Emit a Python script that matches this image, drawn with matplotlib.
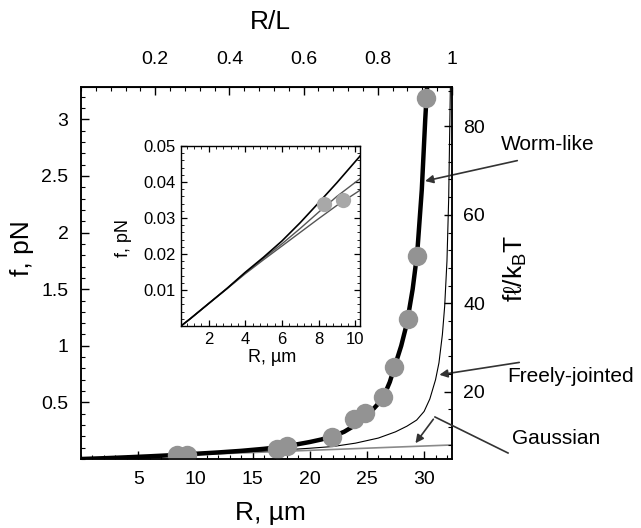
import matplotlib.pyplot as plt
from matplotlib.ticker import MultipleLocator, FixedLocator

plt.rcParams["font.family"] = ["Liberation Sans", "DejaVu Sans"]
plt.rcParams["mathtext.fontset"] = "custom"
plt.rcParams["mathtext.rm"] = "Liberation Sans"

# contour length used for the top R/L axis (um)
L = 32.44

# measured points (main panel)
pts_R = [8.43, 9.30, 17.15, 18.02, 21.97, 23.89, 24.84, 26.39, 27.38, 28.62, 29.41, 30.13]
pts_f = [0.034, 0.035, 0.088, 0.115, 0.194, 0.350, 0.406, 0.549, 0.814, 1.241, 1.795, 3.193]

# worm-like chain curve
wlc_R = [0, 2, 4, 6, 8, 10, 12, 14, 16, 18, 20, 21, 22, 23, 24, 25, 26, 26.5, 27, 27.5,
         28, 28.5, 29, 29.4, 29.8, 30.1, 30.3]
wlc_f = [0, 0.007, 0.015, 0.024, 0.034, 0.046, 0.058, 0.072, 0.090, 0.113, 0.150, 0.172,
         0.200, 0.240, 0.300, 0.380, 0.490, 0.560, 0.680, 0.840, 1.000, 1.200, 1.500,
         1.820, 2.380, 3.000, 3.350]

# freely-jointed chain curve
fjc_R = [0, 5, 10, 15, 18, 20, 22, 24, 26, 27.5, 28.5, 29.35, 30, 30.5, 31, 31.3, 31.6,
         31.8, 32.0, 32.15, 32.3]
fjc_f = [0, 0.019, 0.041, 0.065, 0.082, 0.095, 0.110, 0.140, 0.185, 0.240, 0.290, 0.344,
         0.420, 0.530, 0.700, 0.850, 1.100, 1.350, 1.750, 2.300, 3.300]

# gaussian chain (straight line)
gau_R = [0, 32.44]
gau_f = [0, 0.124]

# inset curves
in_R = [0.5, 1, 2, 3, 4, 5, 6, 7, 8, 9, 10.26]
in_wlc = [0, 0.0020, 0.0062, 0.0104, 0.0149, 0.0191, 0.0236, 0.0287, 0.0342, 0.0398, 0.0472]
in_fjc = [0, 0.0020, 0.0062, 0.0104, 0.0147, 0.0188, 0.0228, 0.0271, 0.0316, 0.0360, 0.0409]
in_gau = [0, 0.0020, 0.0062, 0.0103, 0.0145, 0.0184, 0.0222, 0.0260, 0.0298, 0.0335, 0.0377]
in_pts_R = [8.3, 9.32]
in_pts_f = [0.034, 0.035]

W, H = 641, 528
fig = plt.figure(figsize=(W / 100, H / 100), dpi=100)

ax = fig.add_axes([81 / W, 1 - 459 / H, 371 / W, 372 / H])
ax.plot(gau_R, gau_f, color="#8a8a8a", lw=1.2, zorder=2)
ax.plot(fjc_R, fjc_f, color="black", lw=0.8, zorder=2)
ax.plot(wlc_R, wlc_f, color="black", lw=3.2, zorder=3)
ax.plot(pts_R, pts_f, "o", color="#939393", ms=14, mec="none", zorder=4)
ax.set_xlim(0, L)
ax.set_ylim(0, 3.286)

ax.xaxis.set_major_locator(FixedLocator([5, 10, 15, 20, 25, 30]))
ax.xaxis.set_minor_locator(MultipleLocator(1))
ax.yaxis.set_major_locator(FixedLocator([0.5, 1, 1.5, 2, 2.5, 3]))
ax.yaxis.set_minor_locator(MultipleLocator(0.1))
ax.yaxis.set_major_formatter(plt.FuncFormatter(lambda v, p: f"{v:g}"))
ax.tick_params(which="both", direction="in", top=False, right=False, labelsize=14)
ax.tick_params(which="major", length=6, width=1, pad=9)
ax.tick_params(which="minor", length=3, width=0.8)
for s in ax.spines.values():
    s.set_linewidth(1.1)

top = ax.secondary_xaxis("top", functions=(lambda r: r / L, lambda x: x * L))
top.xaxis.set_major_locator(FixedLocator([0.2, 0.4, 0.6, 0.8, 1.0]))
top.xaxis.set_minor_locator(MultipleLocator(0.04))
top.xaxis.set_major_formatter(plt.FuncFormatter(lambda v, p: f"{v:g}"))
top.tick_params(which="both", direction="in", labelsize=14)
top.tick_params(which="major", length=6, width=1, pad=14)
top.tick_params(which="minor", length=3, width=0.8)

right = ax.twinx()
right.set_ylim(4.8, 88.9)
right.yaxis.set_major_locator(FixedLocator([20, 40, 60, 80]))
right.yaxis.set_minor_locator(MultipleLocator(4))
right.tick_params(which="both", direction="in", labelsize=14)
right.tick_params(which="major", length=6, width=1, pad=8)
right.tick_params(which="minor", length=3, width=0.8)
for s in right.spines.values():
    s.set_linewidth(1.1)

# axis titles
fig.text(22 / W, 1 - 248 / H, "f, pN", rotation=90, ha="center", va="center", fontsize=19)
fig.text(270 / W, 1 - 513 / H, "R, \u00b5m", ha="center", va="center", fontsize=19)
fig.text(270 / W, 1 - 22 / H, "R/L", ha="center", va="center", fontsize=19)
fig.text(515 / W, 1 - 268 / H, "f\u2113/k$_\\mathrm{B}$T", rotation=90, ha="center",
         va="center", fontsize=19)

# annotations
fig.text(548 / W, 1 - 144 / H, "Worm-like", ha="center", va="center", fontsize=15)
fig.text(571 / W, 1 - 377 / H, "Freely-jointed", ha="center", va="center", fontsize=15)
fig.text(556 / W, 1 - 439 / H, "Gaussian", ha="center", va="center", fontsize=15)

arrow = dict(arrowstyle="-|>", color="#333333", lw=1.2, mutation_scale=12)
ax.annotate("", xy=(29.85, 2.45), xycoords="data", xytext=(520, H - 160),
            textcoords="figure pixels", arrowprops=arrow, annotation_clip=False)
ax.annotate("", xy=(31.1, 0.74), xycoords="data", xytext=(522, H - 362),
            textcoords="figure pixels", arrowprops=arrow, annotation_clip=False)
ax.annotate("", xy=(29.1, 0.12), xycoords="data", xytext=(435, H - 417),
            textcoords="figure pixels", arrowprops=arrow, annotation_clip=False)
fig.add_artist(plt.Line2D([435 / W, 508 / W], [1 - 417 / H, 1 - 453 / H],
                          color="#333333", lw=1.2, transform=fig.transFigure))

# inset
ins = fig.add_axes([181 / W, 1 - 326 / H, 179 / W, 180 / H])
ins.plot(in_R, in_gau, color="#555555", lw=1.0)
ins.plot(in_R, in_fjc, color="#555555", lw=1.0)
ins.plot(in_R, in_wlc, color="black", lw=1.2)
ins.plot(in_pts_R, in_pts_f, "o", color="#a8a8a8", ms=11, mec="none", zorder=4)
ins.set_xlim(0.5, 10.26)
ins.set_ylim(0, 0.05)
ins.xaxis.set_major_locator(FixedLocator([2, 4, 6, 8, 10]))
ins.xaxis.set_minor_locator(MultipleLocator(0.4))
ins.yaxis.set_major_locator(FixedLocator([0.01, 0.02, 0.03, 0.04, 0.05]))
ins.yaxis.set_minor_locator(MultipleLocator(0.002))
ins.yaxis.set_major_formatter(plt.FuncFormatter(lambda v, p: f"{v:.2f}"))
ins.tick_params(which="both", direction="in", top=True, right=True, labelsize=12)
ins.tick_params(which="major", length=4, width=0.9, pad=4)
ins.tick_params(which="minor", length=2, width=0.6)
for s in ins.spines.values():
    s.set_linewidth(1.0)
fig.text(124 / W, 1 - 238 / H, "f, pN", rotation=90, ha="center", va="center", fontsize=13)
fig.text(272 / W, 1 - 358 / H, "R, \u00b5m", ha="center", va="center", fontsize=13)

fig.savefig("out.png", dpi=100)
